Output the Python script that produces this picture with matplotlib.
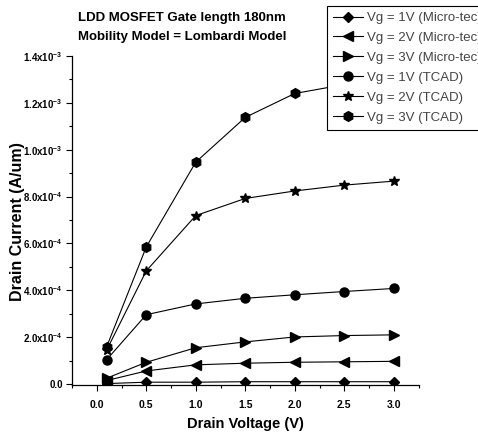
import matplotlib
matplotlib.use("Agg")
import matplotlib.pyplot as plt
from matplotlib.ticker import MultipleLocator, FixedLocator

# ---- data ----
drain_voltage = [0.1, 0.5, 1.0, 1.5, 2.0, 2.5, 3.0]
micro_vg1 = [0.2e-5, 0.8e-5, 0.8e-5, 1.0e-5, 1.0e-5, 1.0e-5, 1.0e-5]
micro_vg2 = [1.5e-5, 5.6e-5, 8.2e-5, 8.9e-5, 9.3e-5, 9.5e-5, 9.7e-5]
micro_vg3 = [2.5e-5, 9.3e-5, 1.55e-4, 1.80e-4, 2.01e-4, 2.07e-4, 2.10e-4]
tcad_vg1 = [1.04e-4, 2.96e-4, 3.42e-4, 3.66e-4, 3.81e-4, 3.95e-4, 4.08e-4]
tcad_vg2 = [1.45e-4, 4.83e-4, 7.19e-4, 7.92e-4, 8.24e-4, 8.49e-4, 8.66e-4]
tcad_vg3 = [1.59e-4, 5.85e-4, 9.47e-4, 1.138e-3, 1.24e-3, 1.278e-3, 1.30e-3]

series_labels = ["Vg = 1V (Micro-tec)", "Vg = 2V (Micro-tec)", "Vg = 3V (Micro-tec)",
                 "Vg = 1V (TCAD)", "Vg = 2V (TCAD)", "Vg = 3V (TCAD)"]

y_ticks = [0.0, 2e-4, 4e-4, 6e-4, 8e-4, 1.0e-3, 1.2e-3, 1.4e-3]
y_tick_labels = ["0.0", r"2.0x10$^{-4}$", r"4.0x10$^{-4}$", r"6.0x10$^{-4}$",
                 r"8.0x10$^{-4}$", r"1.0x10$^{-3}$", r"1.2x10$^{-3}$", r"1.4x10$^{-3}$"]
x_ticks = [0.0, 0.5, 1.0, 1.5, 2.0, 2.5, 3.0]
x_tick_labels = ["0.0", "0.5", "1.0", "1.5", "2.0", "2.5", "3.0"]

# ---- fonts ----
plt.rcParams["font.family"] = ["Liberation Sans", "DejaVu Sans"]
plt.rcParams["mathtext.fontset"] = "custom"
plt.rcParams["mathtext.rm"] = "Liberation Sans:bold"
plt.rcParams["mathtext.default"] = "rm"

fig = plt.figure(figsize=(4.78, 4.40), dpi=100)
ax = fig.add_axes([72 / 478, 55 / 440, 346.5 / 478, 329 / 440])

series = [micro_vg1, micro_vg2, micro_vg3, tcad_vg1, tcad_vg2, tcad_vg3]
markers = ["D", "<", ">", "o", "*", "h"]
msizes = [5, 7, 7, 6.5, 7.5, 7]
handles = []
for vals, m, ms, lab in zip(series, markers, msizes, series_labels):
    h, = ax.plot(drain_voltage, vals, color="black", lw=0.8, marker=m, ms=ms,
                 markerfacecolor="black", markeredgecolor="black", label=lab)
    handles.append(h)

ax.set_xlim(-0.25, 3.25)
ax.set_ylim(-4e-6, 1.4e-3)
ax.spines["top"].set_visible(False)
ax.spines["right"].set_visible(False)
for s in ("left", "bottom"):
    ax.spines[s].set_linewidth(0.9)

ax.yaxis.set_major_locator(FixedLocator(y_ticks))
ax.set_yticklabels(y_tick_labels)
ax.yaxis.set_minor_locator(MultipleLocator(1e-4))
ax.xaxis.set_major_locator(FixedLocator(x_ticks))
ax.set_xticklabels(x_tick_labels)
ax.xaxis.set_minor_locator(MultipleLocator(0.25))
ax.tick_params(which="major", direction="out", length=4, width=0.8, pad=2.5)
ax.tick_params(which="minor", direction="out", length=2, width=0.8)
ax.tick_params(axis="y", labelsize=7)
ax.tick_params(axis="x", labelsize=7.5, pad=7)
for t in ax.get_xticklabels() + ax.get_yticklabels():
    t.set_fontweight("bold")

fig.text(18 / 478, 1 - 222 / 440, "Drain Current (A/um)", rotation=90, ha="center",
         va="center", fontsize=11.5, fontweight="bold")
fig.text(245 / 478, 1 - 424 / 440, "Drain Voltage (V)", ha="center", va="center",
         fontsize=10.5, fontweight="bold")
fig.text(78 / 478, 1 - 18 / 440, "LDD MOSFET Gate length 180nm", ha="left", va="center",
         fontsize=9.5, fontweight="bold")
fig.text(78 / 478, 1 - 37 / 440, "Mobility Model = Lombardi Model", ha="left", va="center",
         fontsize=9.5, fontweight="bold")

leg = fig.legend(handles=handles, loc="upper left", bbox_to_anchor=(327 / 478, 1 - 6 / 440),
                 fontsize=9.5, frameon=True, fancybox=False, framealpha=1.0,
                 labelspacing=0.58, handlelength=2.3,
                 handletextpad=0.25, borderpad=0.45, borderaxespad=0.0,
                 labelcolor="#444444")
leg.get_frame().set_edgecolor("black")
leg.get_frame().set_linewidth(0.8)

fig.savefig("out.png", dpi=100)
